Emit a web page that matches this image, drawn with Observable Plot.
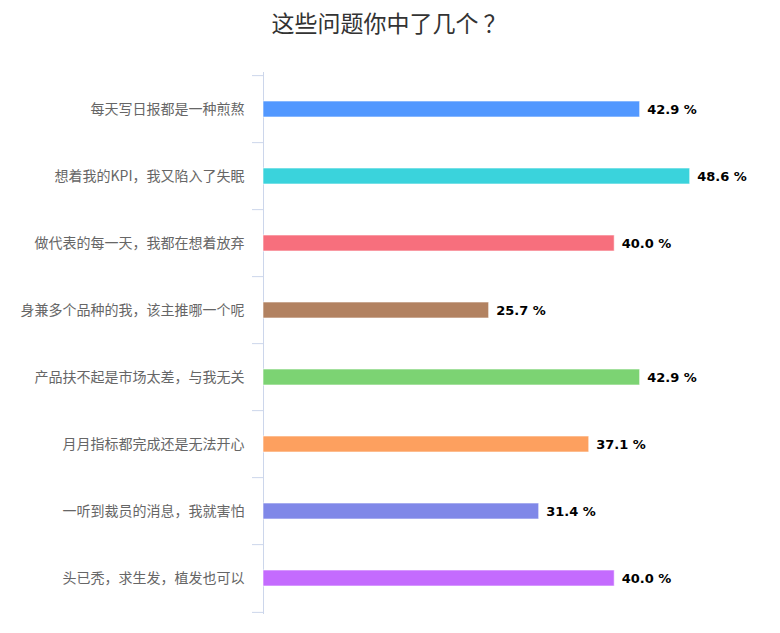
<!DOCTYPE html>
<html><head><meta charset="utf-8">
<script src="https://cdn.jsdelivr.net/npm/d3@7"></script>
<script src="https://cdn.jsdelivr.net/npm/@observablehq/plot@0.6"></script>
<style>
body{margin:0;background:#fff;font-family:"Noto Sans CJK SC","Noto Sans",sans-serif;}
#title{height:44px;line-height:45px;text-align:center;font-size:23px;color:#333;padding-right:2px;}
#title span{margin-left:5px;}
</style></head><body>
<div id="title">这些问题你中了几个<span>？</span></div>
<div id="chart"></div>
<script>
const categories = ["每天写日报都是一种煎熬","想着我的KPI，我又陷入了失眠","做代表的每一天，我都在想着放弃","身兼多个品种的我，该主推哪一个呢","产品扶不起是市场太差，与我无关","月月指标都完成还是无法开心","一听到裁员的消息，我就害怕","头已秃，求生发，植发也可以"];
const values = [42.9, 48.6, 40.0, 25.7, 42.9, 37.1, 31.4, 40.0];
const colors = ["#5298ff","#3ad3dc","#f76f7d","#b28261","#7cd373","#fda05f","#8088e8","#c46bfe"];
const data = categories.map((c,i)=>({category:c, value:values[i], color:colors[i]}));

const W = 780, H = 589, mt = 28, mb = 19;
const step = (H - mt - mb) / categories.length;

const chart = Plot.plot({
  width: W, height: H,
  marginLeft: 263, marginRight: 78, marginTop: mt, marginBottom: mb,
  style: {fontFamily: '"Noto Sans CJK SC","Noto Sans",sans-serif', background: "#fff"},
  x: {domain: [0, 50], axis: null, label: null},
  y: {domain: categories, paddingInner: 0.764, paddingOuter: 0.382, align: 0.5, axis: null, label: null},
  marks: [
    Plot.axisY(categories, {anchor: "left", label: null, tickSize: 0, tickPadding: 19, fontSize: 14, fill: "#666", textStroke: "none"}),
    Plot.axisY(categories, {anchor: "left", label: null, tickSize: 11, stroke: "#ccd6eb", tickFormat: () => "", dy: -step/2}),
    Plot.axisY([categories[categories.length-1]], {anchor: "left", label: null, tickSize: 11, stroke: "#ccd6eb", tickFormat: () => "", dy: step/2}),
    Plot.ruleX([0], {stroke: "#ccd6eb", strokeWidth: 1}),
    Plot.barX(data, {y: "category", x: "value", fill: "color", stroke: "#ffffff", strokeOpacity: 0.6, strokeWidth: 1}),
    Plot.text(data, {y: "category", x: "value", text: d => d.value.toFixed(1) + " %", textAnchor: "start", dx: 7, fontSize: 13, fontWeight: "bold", fontFamily: '"DejaVu Sans",Verdana,sans-serif', fill: "#000"})
  ]
});
document.getElementById("chart").appendChild(chart);
</script>
</body></html>
